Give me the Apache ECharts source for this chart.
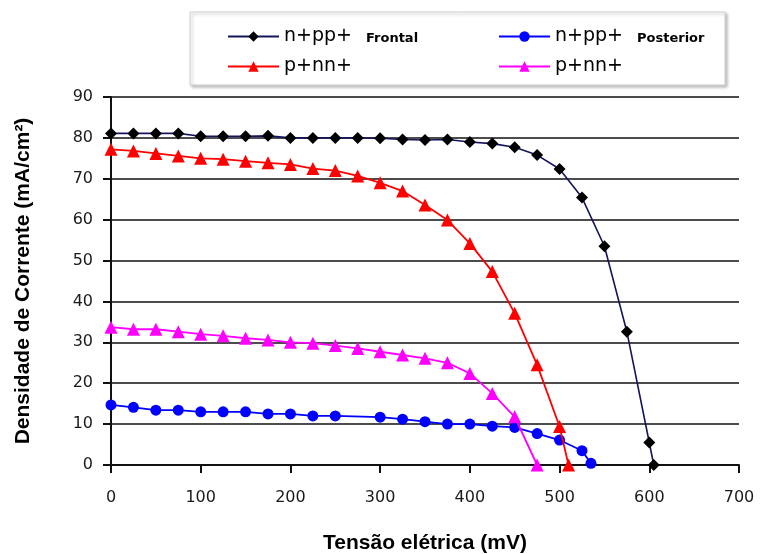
<!DOCTYPE html>
<html>
<head>
<meta charset="utf-8">
<script src="https://cdn.jsdelivr.net/npm/echarts@6/dist/echarts.min.js"></script>
<style>html,body{margin:0;padding:0;background:#fff;}#c{width:763px;height:554px;}</style>
</head>
<body>
<div id="c"></div>
<script>
// Tensão (mV) and densidade de corrente (mA/cm²)
const voltNppFront = [0,25,50,75,100,125,150,175,200,225,250,275,300,325,350,375,400,425,450,475,500,525,550,575,600,605];
const curNppFront  = [81.1,81.1,81.1,81.1,80.4,80.4,80.4,80.5,80.0,80.0,80.0,80.0,79.9,79.6,79.5,79.6,79.0,78.6,77.7,75.8,72.4,65.4,53.5,32.6,5.5,0];

const voltPnnFront = [0,25,50,75,100,125,150,175,200,225,250,275,300,325,350,375,400,425,450,475,500,510];
const curPnnFront  = [77.2,76.8,76.2,75.6,75.0,74.8,74.3,73.9,73.5,72.5,72.0,70.7,69.0,67.0,63.6,59.9,54.2,47.3,37.1,24.5,9.4,0];

const voltNppRear = [0,25,50,75,100,125,150,175,200,225,250,300,325,350,375,400,425,450,475,500,525,535];
const curNppRear  = [14.7,14.1,13.4,13.4,13.0,13.0,13.0,12.5,12.5,12.0,12.0,11.7,11.2,10.6,10.0,10.0,9.5,9.2,7.7,6.1,3.5,0.4];

const voltPnnRear = [0,25,50,75,100,125,150,175,200,225,250,275,300,325,350,375,400,425,450,475];
const curPnnRear  = [33.7,33.2,33.2,32.6,32.0,31.6,31.0,30.6,30.0,29.8,29.2,28.5,27.7,26.9,26.1,25.0,22.4,17.5,11.8,0];

const xTicks = [0,100,200,300,400,500,600,700];
const yTicks = [0,10,20,30,40,50,60,70,80,90];

const seriesNames = ['n+pp+ Frontal','p+nn+ Frontal','n+pp+ Posterior','p+nn+ Posterior'];

function pairs(xs, ys){ return xs.map((x,i)=>[x, ys[i]]); }

const chart = echarts.init(document.getElementById('c'), null, {renderer:'canvas'});
const tickFont = 'DejaVu Sans';
const legendRich = {
  a:{fontFamily:'DejaVu Sans', fontSize:19, color:'#000'},
  b:{fontFamily:'DejaVu Sans', fontWeight:'bold', fontSize:13, color:'#000', padding:[5,0,0,14]}
};
function legendFmt(name){
  const parts = name.split(' ');
  if (parts[0]==='n+pp+') return '{a|'+parts[0]+'}{b|'+parts[1]+'}';
  return '{a|'+parts[0]+'}';
}
function mkLegend(name, left, top){
  return {data:[name], left:left, top:top, itemWidth:51, itemHeight:13, padding:0,
    formatter:legendFmt, textStyle:{rich:legendRich}, selectedMode:false};
}

chart.setOption({
  animation:false,
  backgroundColor:'#fff',
  graphic:[{
    type:'rect', z:0, silent:true,
    shape:{x:190, y:12, width:535, height:73},
    style:{fill:'#fff', stroke:'#d0d0d0', lineWidth:1, shadowColor:'rgba(0,0,0,0.25)', shadowBlur:3, shadowOffsetX:2, shadowOffsetY:2}
  }],
  legend:[
    mkLegend(seriesNames[0], 227, 27),
    mkLegend(seriesNames[1], 227, 57),
    mkLegend(seriesNames[2], 498, 27),
    mkLegend(seriesNames[3], 498, 57)
  ],
  grid:{left:111, right:24, top:97, bottom:89, containLabel:false, outerBoundsMode:'none'},
  xAxis:{
    type:'value', min:0, max:700, interval:100,
    name:'Tensão elétrica (mV)', nameLocation:'middle', nameGap:68,
    nameTextStyle:{fontFamily:'Liberation Sans', fontWeight:'bold', fontSize:21, color:'#000'},
    axisLine:{lineStyle:{color:'#111', width:2}},
    axisTick:{show:true, length:8, lineStyle:{color:'#111', width:2}},
    axisLabel:{margin:25, fontFamily:tickFont, fontSize:16, color:'#1a1a1a',
      formatter:(v)=> xTicks.includes(v) ? String(v) : ''},
    splitLine:{show:false}
  },
  yAxis:{
    type:'value', min:0, max:90, interval:10,
    name:'Densidade de Corrente (mA/cm²)', nameLocation:'middle', nameGap:77, nameRotate:90,
    nameTextStyle:{fontFamily:'Liberation Sans', fontWeight:'bold', fontSize:21, color:'#000'},
    axisLine:{show:true, lineStyle:{color:'#111', width:2}},
    axisTick:{show:true, length:8, lineStyle:{color:'#111', width:2}},
    axisLabel:{margin:18, fontFamily:tickFont, fontSize:16, color:'#1a1a1a',
      formatter:(v)=> yTicks.includes(v) ? String(v) : ''},
    splitLine:{show:true, lineStyle:{color:'#111', width:1.6}}
  },
  series:[
    {name:seriesNames[0], type:'line', data:pairs(voltNppFront, curNppFront),
     symbol:'diamond', symbolSize:12, itemStyle:{color:'#000'}, lineStyle:{color:'#14145e', width:1.6}, z:5},
    {name:seriesNames[1], type:'line', data:pairs(voltPnnFront, curPnnFront),
     symbol:'triangle', symbolSize:13, itemStyle:{color:'#ff0000'}, lineStyle:{color:'#ff0000', width:1.8}, z:4},
    {name:seriesNames[2], type:'line', data:pairs(voltNppRear, curNppRear),
     symbol:'circle', symbolSize:11, itemStyle:{color:'#0000ff'}, lineStyle:{color:'#0000ff', width:1.8}, z:3},
    {name:seriesNames[3], type:'line', data:pairs(voltPnnRear, curPnnRear),
     symbol:'triangle', symbolSize:13, itemStyle:{color:'#ff00ff'}, lineStyle:{color:'#ff00ff', width:1.8}, z:4}
  ]
});
</script>
</body>
</html>
